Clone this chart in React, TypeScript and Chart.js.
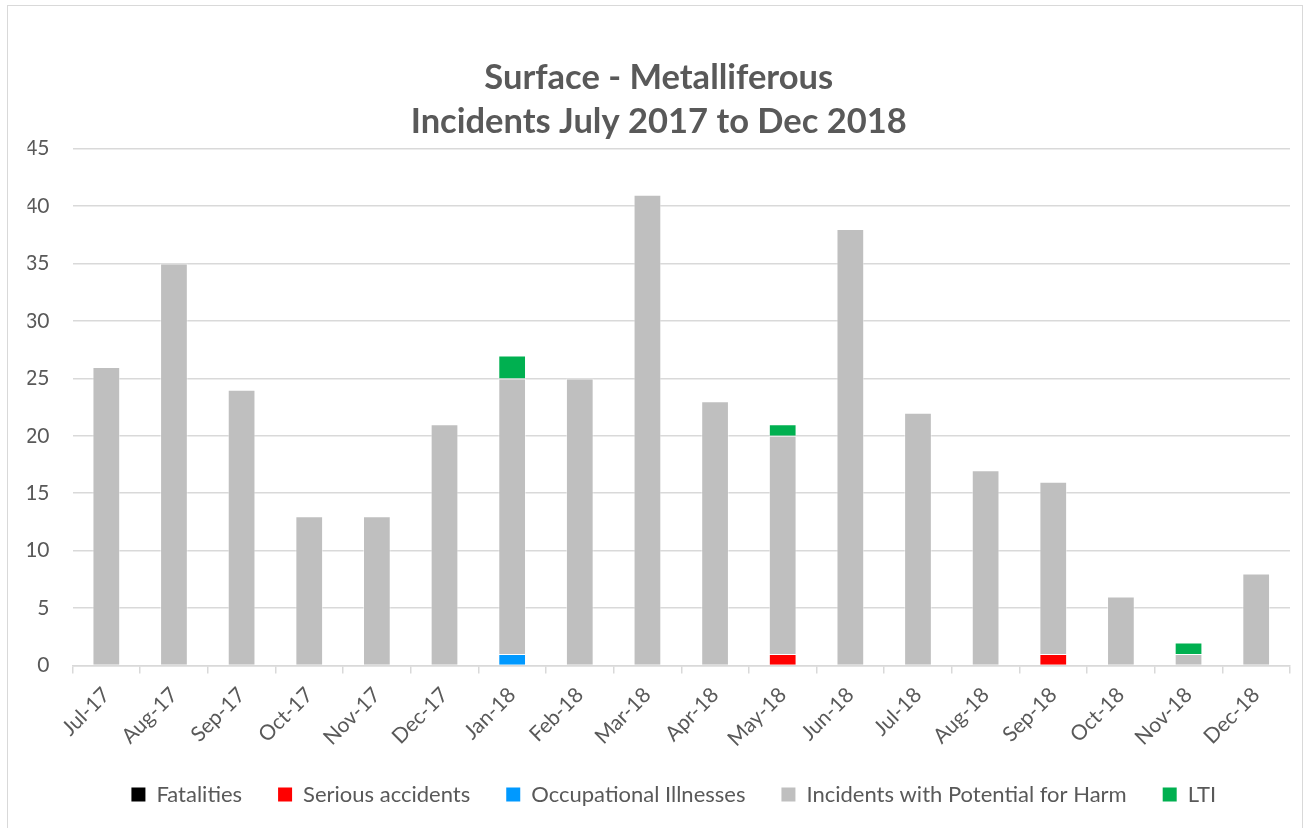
import React, { useEffect, useRef } from "react";
import { Chart, registerables } from "chart.js";

Chart.register(...registerables);

const categories = [
  "Jul-17", "Aug-17", "Sep-17", "Oct-17", "Nov-17", "Dec-17",
  "Jan-18", "Feb-18", "Mar-18", "Apr-18", "May-18", "Jun-18",
  "Jul-18", "Aug-18", "Sep-18", "Oct-18", "Nov-18", "Dec-18",
];

const fatalities = [0, 0, 0, 0, 0, 0, 0, 0, 0, 0, 0, 0, 0, 0, 0, 0, 0, 0];
const seriousAccidents = [0, 0, 0, 0, 0, 0, 0, 0, 0, 0, 1, 0, 0, 0, 1, 0, 0, 0];
const occupationalIllnesses = [0, 0, 0, 0, 0, 0, 1, 0, 0, 0, 0, 0, 0, 0, 0, 0, 0, 0];
const potentialForHarm = [26, 35, 24, 13, 13, 21, 24, 25, 41, 23, 19, 38, 22, 17, 15, 6, 1, 8];
const lti = [0, 0, 0, 0, 0, 0, 2, 0, 0, 0, 1, 0, 0, 0, 0, 0, 1, 0];

const yTicks = [0, 5, 10, 15, 20, 25, 30, 35, 40, 45];

const FONT = "Lato, 'Open Sans', sans-serif";
const TEXT = "#595959";
const EDGE = "rgba(255,255,255,0.45)";

const legendShift = {
  id: "legendShift",
  afterLayout(chart: any) {
    if (chart.legend) {
      chart.legend.left += 15;
      chart.legend.right += 15;
    }
  },
};

export default function App() {
  const ref = useRef<HTMLCanvasElement | null>(null);

  useEffect(() => {
    if (!ref.current) return;
    const chart = new Chart(ref.current, {
      type: "bar",
      data: {
        labels: categories,
        datasets: [
          { label: "Fatalities", data: fatalities, backgroundColor: "#000000" },
          { label: "Serious accidents", data: seriousAccidents, backgroundColor: "#ff0000" },
          { label: "Occupational Illnesses", data: occupationalIllnesses, backgroundColor: "#0099ff" },
          { label: "Incidents with Potential for Harm", data: potentialForHarm, backgroundColor: "#bfbfbf" },
          { label: "LTI", data: lti, backgroundColor: "#00b050" },
        ],
      },
      options: {
        animation: false,
        responsive: false,
        maintainAspectRatio: false,
        datasets: {
          bar: {
            categoryPercentage: 1,
            barPercentage: 0.41,
            borderWidth: 1,
            borderColor: EDGE,
          },
        },
        layout: { padding: { left: 19.5, right: 11, top: 49, bottom: 12.5 } },
        plugins: {
          title: {
            display: true,
            text: ["Surface - Metalliferous", "Incidents July 2017 to Dec 2018"],
            color: TEXT,
            font: { family: FONT, size: 34.5, weight: "bold", lineHeight: 1.3 },
            padding: { top: 0, bottom: 4 },
          },
          legend: {
            position: "bottom",
            labels: {
              color: TEXT,
              font: { family: FONT, size: 22 },
              boxWidth: 14,
              boxHeight: 14,
              padding: 36,
              generateLabels: (c: any) =>
                c.data.datasets.map((ds: any, i: number) => ({
                  text: ds.label,
                  fillStyle: ds.backgroundColor,
                  strokeStyle: ds.backgroundColor,
                  lineWidth: 0,
                  hidden: false,
                  datasetIndex: i,
                  fontColor: TEXT,
                })),
            },
          },
          tooltip: { enabled: false },
        },
        scales: {
          x: {
            stacked: true,
            afterFit: (scale: any) => {
              scale.height = 82;
            },
            grid: {
              display: true,
              offset: true,
              drawOnChartArea: false,
              drawTicks: true,
              tickLength: 8,
              color: "#d9d9d9",
              lineWidth: 1.5,
            },
            border: { display: true, color: "#d9d9d9", width: 1.5 },
            ticks: {
              color: TEXT,
              font: { family: FONT, size: 21 },
              maxRotation: 45,
              minRotation: 45,
              padding: 9,
            },
          },
          y: {
            stacked: true,
            min: 0,
            max: 45,
            afterBuildTicks: (axis: any) => {
              axis.ticks = yTicks.map((v) => ({ value: v }));
            },
            afterFit: (scale: any) => {
              scale.width = 45;
            },
            grid: { color: "#d9d9d9", lineWidth: 1.5, drawTicks: false },
            border: { display: false },
            ticks: {
              color: TEXT,
              font: { family: FONT, size: 21 },
              padding: 23,
            },
          },
        },
      },
      plugins: [legendShift],
    });
    return () => chart.destroy();
  }, []);

  return (
    <div
      style={{
        position: "absolute",
        left: 7,
        top: 5,
        width: 1296,
        height: 823,
        overflow: "hidden",
        border: "1.5px solid #d9d9d9",
        borderBottom: "none",
        boxSizing: "border-box",
        background: "#fff",
      }}
    >
      <canvas ref={ref} width={1293} height={822} style={{ display: "block" }} />
    </div>
  );
}
